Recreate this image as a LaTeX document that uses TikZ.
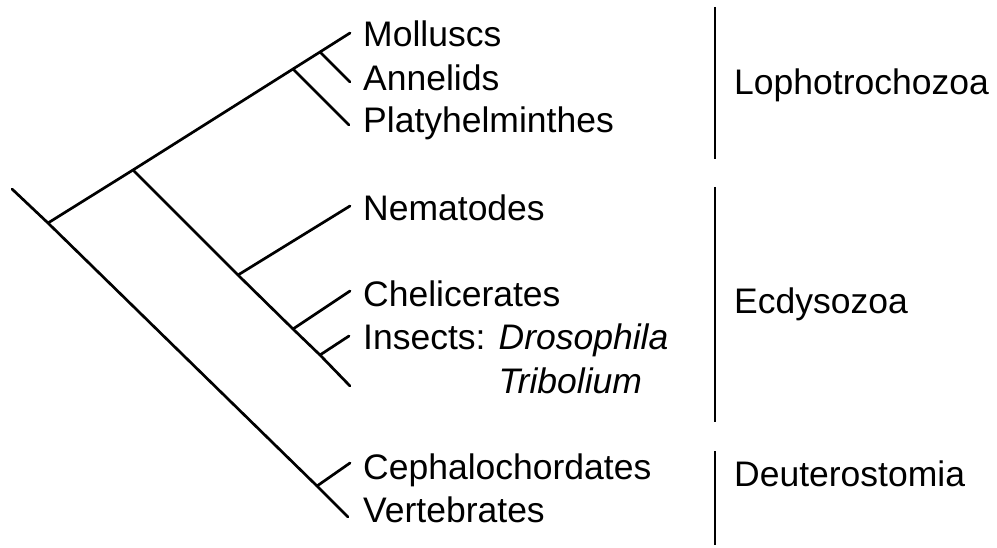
\documentclass[tikz,border=0pt]{standalone}
\usepackage{fontspec}
\setmainfont{Liberation Sans}

\tikzset{
    branch/.style={line width=2.7pt, line cap=round},
    taxon/.style={anchor=base west, inner sep=0pt, font=\fontsize{35.5}{42}\selectfont},
}

\begin{document}
\begin{tikzpicture}[x=1pt, y=-1pt]
\useasboundingbox[fill=white] (0,0) rectangle (997,548);
% tree vertices
\coordinate (r0) at (12,189);
\coordinate (r) at (48,223);
\coordinate (p) at (133,170);
\coordinate (l) at (293,69);
\coordinate (ma) at (320,52);
\coordinate (n) at (238,275);
\coordinate (c) at (293,329);
\coordinate (i) at (320,355);
\coordinate (d) at (317,486);
% tips
\coordinate (tmol) at (350,33);
\coordinate (tann) at (350,82);
\coordinate (tpla) at (349,125);
\coordinate (tnem) at (350,206);
\coordinate (tche) at (350,291);
\coordinate (tins) at (349,336);
\coordinate (ttri) at (350,386);
\coordinate (tcep) at (350,463);
\coordinate (tver) at (348,517);

\draw[branch] (r0) -- (r) -- (d) -- (tver);
\draw[branch] (r) -- (p) -- (l) -- (ma) -- (tmol);
\draw[branch] (ma) -- (tann);
\draw[branch] (l) -- (tpla);
\draw[branch] (p) -- (n) -- (c) -- (i) -- (ttri);
\foreach \a/\b in {n/tnem, c/tche, i/tins, d/tcep}
    \draw[branch] (\a) -- (\b);

\node[taxon] (mol) at (363,47) {Molluscs};
\node[taxon] (ann) at (363,91) {Annelids};
\node[taxon] (pla) at (363,133) {Platyhelminthes};
\node[taxon] (nem) at (363,221) {Nematodes};
\node[taxon] (che) at (363,307) {Chelicerates};
\node[taxon] (ins) at (363,350) {Insects: \textit{Drosophila}};
\node[taxon] (tri) at (363,393) {\phantom{Insects: }\textit{Tribolium}};
\node[taxon] (cep) at (363,479) {Cephalochordates};
\node[taxon] (ver) at (363,522) {Vertebrates};

% clade bars
\coordinate (b1) at (715,7);   \coordinate (e1) at (715,159);
\coordinate (b2) at (715,187); \coordinate (e2) at (715,422);
\coordinate (b3) at (715,451); \coordinate (e3) at (715,545);
\foreach \s/\e in {b1/e1, b2/e2, b3/e3}
    \draw[line width=2.7pt] (\s) -- (\e);

\node[taxon] (lop) at (734,95) {Lophotrochozoa};
\node[taxon] (ecd) at (734,314) {Ecdysozoa};
\node[taxon] (deu) at (734,486) {Deuterostomia};
\end{tikzpicture}
\end{document}
